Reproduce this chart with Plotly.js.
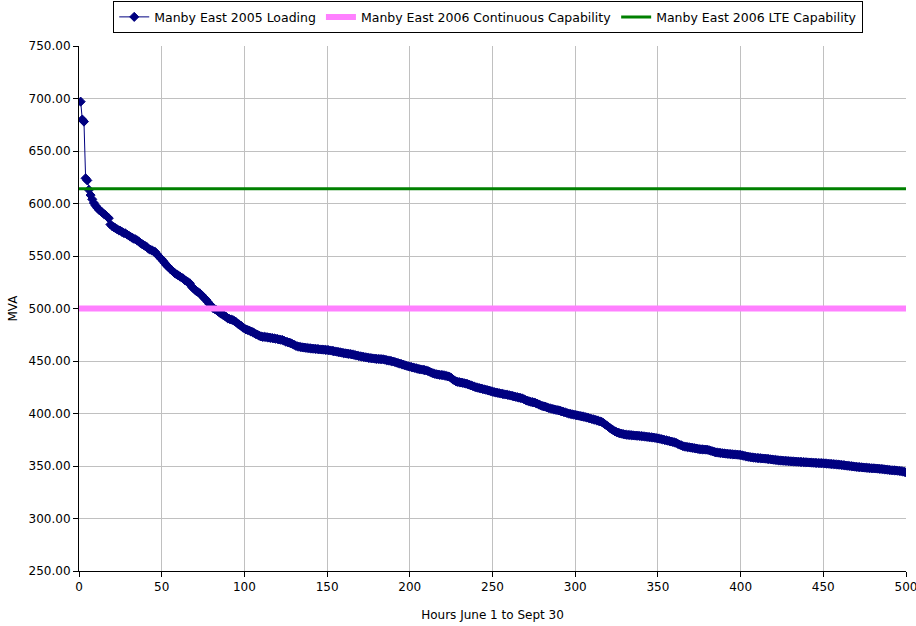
<!DOCTYPE html>
<html>
<head>
<meta charset="utf-8">
<script src="https://cdn.plot.ly/plotly-3.0.1.min.js"></script>
<style>html,body{margin:0;padding:0;background:#fff;}#chart{width:916px;height:626px;}</style>
</head>
<body>
<div id="chart"></div>
<script>
// Sorted hourly loading (MVA), hours 1..500
var loading2005 = [
697,680,678,624,622,613,608,604,600.5,598,
596,594,593,591.5,590,589,587.5,586,580,578.5,
577.5,576.5,575.5,574.5,574,573,572,571.5,570.5,569.5,
568.5,567.5,566.5,566,565,564,562.5,561.5,560.5,559.5,
558.5,557,556,555.5,554.5,554,552,550,548.5,546.8,
545,543,541,539.5,538,536.5,535,533.5,532.5,531.5,
530.5,529.5,528.5,527,526,525,524,521,519.5,518,
516.5,515.5,514.5,513,511,509.5,508,506,504,502,
500.5,499.5,498.6,497.5,496,495,494,493,492,490.5,
490,489.5,489,488,487,485.5,484.5,483.5,482,481,
480,479.5,479,478,477.5,476.5,475.5,475,474,473.5,
473,473,472.8,472.5,472.3,472,471.8,471.5,471.2,471,
470.5,470.2,470,469.3,468.5,468,467.5,467,466.2,465.5,
464.5,464,463.6,463.3,463,462.8,462.6,462.4,462.2,462,
461.8,461.7,461.5,461.4,461.2,461,460.9,460.8,460.6,460.5,
460.3,460,459.7,459.4,459.1,458.8,458.5,458.2,457.9,457.5,
457.3,457,456.8,456.7,456.3,456,455.6,455.2,454.8,454.5,
454.2,453.9,453.6,453.3,453,452.8,452.6,452.4,452.2,452,
451.9,451.8,451.7,451.6,451.2,450.8,450.5,450.2,449.8,449.5,
449,448.5,448,447.5,447,446.5,446,445.5,445,444.6,
444.2,443.8,443.4,443,442.5,442.2,441.9,441.6,441.3,441,
440.4,439.8,439,438.3,437.8,437.4,437.1,436.8,436.7,436.5,
436.2,435.8,435.4,435,434,432.5,431.5,430.5,430.1,429.8,
429.5,429.2,428.8,428.4,428,427.4,426.8,426.2,425.6,425,
424.6,424.2,423.8,423.4,423,422.6,422.2,421.8,421.3,420.8,
420.4,420,419.7,419.4,419,418.7,418.4,418.1,417.8,417.5,
417.1,416.7,416.3,415.9,415.5,415.1,414.8,414.4,413.6,412.8,
412.2,411.7,411.2,410.8,410.5,410,409.4,408.6,407.8,407.2,
406.8,406.5,405.8,405.2,404.8,404.4,404,403.6,403.3,403,
402.5,402,401.5,401,400.5,400,399.6,399.3,399,398.6,
398.3,398,397.6,397.3,397,396.6,396.2,395.8,395.3,394.8,
394.4,394,393.5,393,392.5,392,391,389.8,388.6,387.4,
386.2,385,384,383,382.3,381.7,381.2,380.8,380.4,380,
379.8,379.6,379.5,379.3,379.2,379,378.9,378.8,378.6,378.5,
378.3,378.1,377.9,377.7,377.5,377.3,377.1,376.9,376.6,376.3,
376,375.6,375.2,374.8,374.5,374.1,373.7,373.3,372.9,372.5,
372,371.2,370.4,369.7,369,368.6,368.3,368,367.8,367.5,
367.3,367,366.7,366.4,366.1,365.9,365.8,365.7,365.6,365.5,
365,364.5,364,363.5,363,362.8,362.6,362.4,362.2,362,
361.8,361.6,361.5,361.3,361.2,361,360.9,360.8,360.6,360.5,
360.1,359.7,359.3,359,358.7,358.4,358.2,358,357.8,357.6,
357.5,357.4,357.2,357.1,357,356.8,356.6,356.4,356.2,356,
355.8,355.6,355.4,355.2,355.1,355,354.9,354.8,354.6,354.5,
354.4,354.3,354.2,354.1,354,353.9,353.8,353.7,353.6,353.5,
353.4,353.3,353.2,353.1,353,352.9,352.8,352.7,352.7,352.6,
352.5,352.3,352.2,352,351.9,351.8,351.6,351.5,351.3,351.2,
351,350.8,350.6,350.4,350.2,350,349.8,349.6,349.4,349.2,
349,348.9,348.8,348.6,348.5,348.3,348.2,348,347.9,347.8,
347.7,347.6,347.5,347.3,347.2,347,346.8,346.6,346.4,346.2,
346,345.9,345.8,345.7,345.5,345.3,345.1,344.8,344.4,344
];
var capHours = [0, 500];
var continuousCap2006 = [500, 500];
var lteCap2006 = [614, 614];
var seriesNames = ["Manby East 2005 Loading", "Manby East 2006 Continuous Capability", "Manby East 2006 LTE Capability"];
var xTicks = [0,50,100,150,200,250,300,350,400,450,500];
var yTicks = [250,300,350,400,450,500,550,600,650,700,750];

var hours = loading2005.map(function(v, i){ return i + 1; });
var FONT = "DejaVu Sans, Verdana, sans-serif";

var traces = [
  {
    x: hours, y: loading2005, name: seriesNames[0], type: "scatter", mode: "lines+markers",
    line: {color: "#000080", width: 1},
    marker: {symbol: "diamond", size: 7, color: "#000080", line: {color: "#000080", width: 1}}
  },
  {
    x: capHours, y: continuousCap2006, name: seriesNames[1], type: "scatter", mode: "lines",
    line: {color: "#FF80FF", width: 6}
  },
  {
    x: capHours, y: lteCap2006, name: seriesNames[2], type: "scatter", mode: "lines",
    line: {color: "#008000", width: 3}
  }
];

var layout = {
  width: 916, height: 626,
  margin: {l: 79, r: 10, t: 46, b: 55, autoexpand: false},
  paper_bgcolor: "#ffffff", plot_bgcolor: "#ffffff",
  font: {family: FONT, size: 12, color: "#000000"},
  showlegend: true,
  legend: {
    orientation: "h", x: 0.533, xanchor: "center", xref: "container",
    y: 0.998, yanchor: "top", yref: "container",
    bordercolor: "#000000", borderwidth: 1, bgcolor: "#ffffff",
    font: {family: FONT, size: 12.5, color: "#000000"},
    itemwidth: 30, tracegroupgap: 0
  },
  xaxis: {
    range: [0, 500], tickvals: xTicks, ticktext: xTicks.map(String),
    showgrid: true, gridcolor: "#c0c0c0", gridwidth: 1,
    showline: true, linecolor: "#000000", linewidth: 1,
    ticks: "outside", ticklen: 5, tickcolor: "#000000",
    ticklabeloverflow: "allow",
    zeroline: false, tickfont: {family: FONT, size: 12},
    title: {text: "Hours June 1 to Sept 30", font: {family: FONT, size: 12}, standoff: 17}
  },
  yaxis: {
    range: [250, 750], tickvals: yTicks, ticktext: yTicks.map(function(v){ return v.toFixed(2); }),
    showgrid: true, gridcolor: "#c0c0c0", gridwidth: 1,
    showline: true, linecolor: "#000000", linewidth: 1,
    ticks: "outside", ticklen: 5, tickcolor: "#000000",
    zeroline: false, tickfont: {family: FONT, size: 12},
    title: {text: "MVA", font: {family: FONT, size: 12}, standoff: 8}
  }
};

Plotly.newPlot("chart", traces, layout, {displayModeBar: false, staticPlot: true});
</script>
</body>
</html>
